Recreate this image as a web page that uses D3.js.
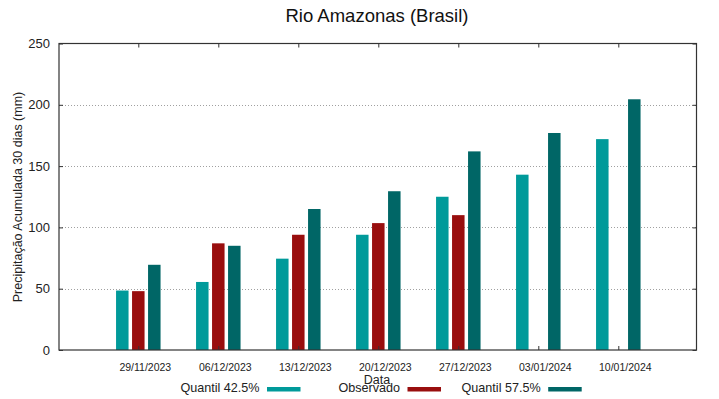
<!DOCTYPE html>
<html>
<head>
<meta charset="utf-8">
<script src="https://cdn.jsdelivr.net/npm/d3@7"></script>
<style>
  html, body { margin: 0; padding: 0; background: #fff; }
  svg { display: block; font-family: "Liberation Sans", Arial, sans-serif; }
</style>
</head>
<body>
<svg id="chart" width="719" height="399"></svg>
<script>
const categories = ["29/11/2023", "06/12/2023", "13/12/2023", "20/12/2023", "27/12/2023", "03/01/2024", "10/01/2024"];
const quantil425 = [48.5, 55.5, 74.5, 94, 125, 143, 172];
const observado = [48, 87, 94, 103.5, 110, null, null];
const quantil575 = [69.5, 85, 115, 129.5, 162, 177, 204.5];
const yTicks = [0, 50, 100, 150, 200, 250];
const seriesNames = ["Quantil 42.5%", "Observado", "Quantil 57.5%"];
const seriesColors = ["#009a9a", "#990e0e", "#006666"];

(function () {
const W = 719, H = 399;
const pL = 59, pR = 696.5, pT = 43.5, pB = 350;

const svg = d3.select("#chart");
svg.append("rect").attr("width", W).attr("height", H).attr("fill", "#fff");

const y = d3.scaleLinear().domain([0, 250]).range([pB, pT]);
const xc = d3.scaleLinear().domain([0, categories.length - 1]).range([138.3, 618.3]);

// gridlines
const gridVals = yTicks.filter(v => v > 0 && v < 250);
svg.append("g").selectAll("line").data(gridVals).join("line")
  .attr("x1", pL).attr("x2", pR)
  .attr("y1", d => Math.round(y(d)) + 0.5).attr("y2", d => Math.round(y(d)) + 0.5)
  .attr("stroke", "#a0a0a0").attr("stroke-width", 1).attr("stroke-dasharray", "1,2");

// bars
const barW = 12.5, offs = [-16, 0, 16];
const seriesData = [quantil425, observado, quantil575];
seriesData.forEach((vals, si) => {
  svg.append("g").selectAll("rect")
    .data(vals.map((v, i) => ({v, i})).filter(d => d.v != null))
    .join("rect")
    .attr("x", d => xc(d.i) + offs[si] - barW / 2)
    .attr("width", barW)
    .attr("y", d => y(d.v))
    .attr("height", d => y(0) - y(d.v))
    .attr("fill", seriesColors[si]);
});

// frame
const axisColor = "#333";
svg.append("rect")
  .attr("x", pL).attr("y", pT)
  .attr("width", pR - pL).attr("height", pB - pT)
  .attr("fill", "none").attr("stroke", axisColor).attr("stroke-width", 1.2);

// y axis ticks & labels
const yAxisL = d3.axisLeft(y).tickValues(yTicks).tickSizeInner(-4).tickSizeOuter(0).tickPadding(9);
const gL = svg.append("g").attr("transform", `translate(${pL},0)`).call(yAxisL);
gL.select(".domain").remove();
gL.selectAll("line").attr("stroke", axisColor);
gL.selectAll("text").attr("font-size", 13).attr("fill", "#222")
  .attr("font-family", "Liberation Sans, Arial, sans-serif");

const yAxisR = d3.axisRight(y).tickValues(yTicks).tickSizeInner(-4).tickSizeOuter(0).tickFormat("");
const gR = svg.append("g").attr("transform", `translate(${pR},0)`).call(yAxisR);
gR.select(".domain").remove();
gR.selectAll("line").attr("stroke", axisColor);

// x axis ticks
const xIdx = categories.map((c, i) => i);
const xAxisB = d3.axisBottom(xc).tickValues(xIdx).tickSizeInner(-4).tickSizeOuter(0).tickFormat("");
const gB = svg.append("g").attr("transform", `translate(0,${pB})`).call(xAxisB);
gB.select(".domain").remove();
gB.selectAll("line").attr("stroke", axisColor);

const xAxisT = d3.axisTop(xc).tickValues(xIdx).tickSizeInner(-4).tickSizeOuter(0).tickFormat("");
const gT = svg.append("g").attr("transform", `translate(0,${pT})`).call(xAxisT);
gT.select(".domain").remove();
gT.selectAll("line").attr("stroke", axisColor);

// x tick labels
svg.append("g").selectAll("text").data(categories).join("text")
  .attr("x", (d, i) => xc(i) + 7)
  .attr("y", 371)
  .attr("text-anchor", "middle")
  .attr("font-size", 10.5)
  .attr("fill", "#222")
  .text(d => d);

// title
svg.append("text").attr("x", 377).attr("y", 22).attr("text-anchor", "middle")
  .attr("font-size", 18.5).attr("fill", "#111").text("Rio Amazonas (Brasil)");

// y label
svg.append("text")
  .attr("transform", "translate(21.5,197) rotate(-90)")
  .attr("text-anchor", "middle").attr("font-size", 12.5).attr("fill", "#222")
  .text("Precipitação Acumulada 30 dias (mm)");

// x label
svg.append("text").attr("x", 377).attr("y", 383.5).attr("text-anchor", "middle")
  .attr("font-size", 12.5).attr("fill", "#222").text("Data");

// legend
const legEnds = [259.5, 400, 540.7];
seriesNames.forEach((name, i) => {
  svg.append("text").attr("x", legEnds[i]).attr("y", 392)
    .attr("text-anchor", "end").attr("font-size", 12.6).attr("fill", "#222").text(name);
  svg.append("rect").attr("x", legEnds[i] + 7.5).attr("y", 387)
    .attr("width", 33.5).attr("height", 4.5).attr("fill", seriesColors[i]);
});
})();
</script>
</body>
</html>
